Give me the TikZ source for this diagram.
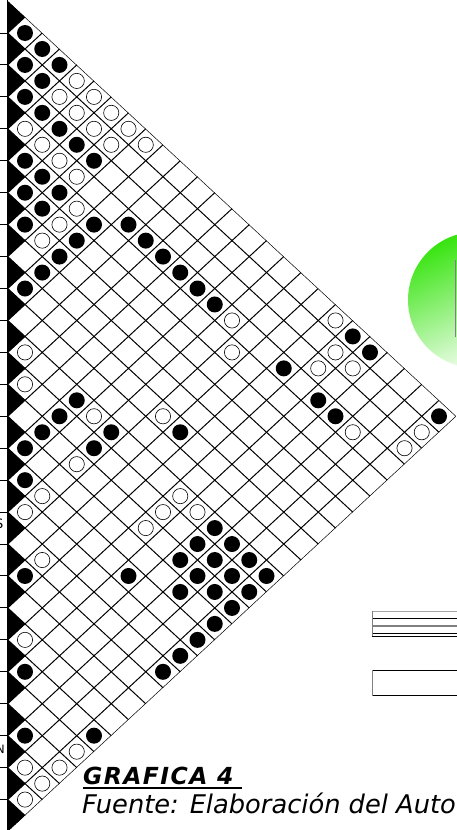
\documentclass[tikz,border=0pt]{standalone}
\usepackage{fontspec}
\setmainfont{DejaVu Sans}
\definecolor{gr}{RGB}{55,228,15}
\begin{document}
\begin{tikzpicture}[x=1pt,y=-1pt,
  gridline/.style={line width=1pt,black},
  blackdot/.style={fill=black},
  whitedot/.style={fill=white,draw=black,line width=0.6pt}]
\useasboundingbox (0,0) rectangle (456,830);
\def\hx{17.25}
\def\hy{15.97}
% grid
\begin{scope}
\clip (7.75,1.06) -- (456.25,416.28) -- (7.75,831.5) -- cycle;
\foreach \i in {0,...,25}{
  \pgfmathsetmacro\c{\i-0.5}
  \draw[gridline] ({25-\hx},{33+\hy*(2*\c-1)}) -- ({25+\hx*(25-\c)},{33+\hy*(\c+25)});
  \draw[gridline] ({25+\hx*(\c+1)},{33+\hy*(\c-1)}) -- ({25-\hx},{33+\hy*(2*\c+1)});
}
\foreach \j in {0,...,25}{
  \pgfmathsetmacro\yy{33+\hy*(2*\j-1)}
  \fill[black] ({25-2*\hx},\yy) -- ({25-\hx},{\yy-\hy}) -- (25,\yy) -- ({25-\hx},{\yy+\hy}) -- cycle;
}
\end{scope}
% left axis
\draw[line width=1pt] (7.75,0) -- (7.75,830);
\foreach \j in {0,...,24}{
  \draw[line width=1pt] (0,{33+2*\hy*\j}) -- (7.75,{33+2*\hy*\j});
}
% circles
\foreach \p/\q in {0/0,0/1,1/1,0/2,1/2,2/2,2/3,2/4,2/5,4/4,2/6,4/5,5/5,4/6,5/6,6/6,4/8,3/9,5/8,3/10,6/8,3/11,7/8,3/12,8/8,3/13,3/14,10/13,0/19,0/20,3/18,3/20,3/21,0/24,11/13,12/13,10/15,8/17,13/13,11/15,14/14,10/21,11/21,10/22,12/21,11/22,17/17,14/20,12/22,13/22,12/23,10/23,11/23,10/24,11/24,12/24,13/24,14/24,15/24,20/20,16/24,22/22,20/24}{
  \fill[blackdot] ({25+\hx*(\q-\p)},{33+\hy*(\p+\q)}) circle (8);
}
\foreach \p/\q in {0/3,1/3,0/4,1/4,0/5,3/3,1/5,0/6,3/4,1/6,0/7,3/5,3/6,4/7,5/7,6/7,3/15,10/10,11/11,4/16,0/18,1/19,2/19,1/20,3/22,1/24,2/24,10/14,8/16,12/15,14/15,10/19,15/15,11/19,10/20,12/19,16/17,19/19,21/24,23/23,22/24,23/24,24/24}{
  \filldraw[whitedot] ({25+\hx*(\q-\p)},{33+\hy*(\p+\q)}) circle (7.6);
}
% partial labels on the left (cut off at the edge, as in the reference)
\node[anchor=base east,inner sep=0pt,font=\fontsize{13}{15}\selectfont] (lblS) at (3.5,528.5) {S};
\node[anchor=base east,inner sep=0pt,font=\fontsize{11.5}{14}\selectfont] (lblN) at (5,753.5) {N};
% green disc
\shade[top color=gr, bottom color=white, shading angle=25] (476,300) circle (68);
\draw[gray,line width=1pt] (455.7,260) -- (455.7,337);
% legend boxes
\draw[gray!70,line width=0.6pt] (372.3,611) -- (460,611);
\draw[black,line width=0.8pt] (372.3,618.3) -- (460,618.3);
\draw[gray,line width=1.6pt] (372.3,625.7) -- (460,625.7);
\draw[black,line width=0.8pt] (372.3,633.3) -- (460,633.3);
\draw[black,line width=0.8pt] (372.3,636.3) -- (460,636.3);
\draw[gray,line width=1pt] (372.3,611) -- (372.3,636.3);
\draw[black,line width=0.8pt] (460,670) -- (372.3,670) -- (372.3,695.7) -- (460,695.7);
\draw[gray,line width=1pt] (372.6,670) -- (372.6,695.7);
% texts
\node[anchor=base west,inner sep=0pt,font=\bfseries\itshape\fontsize{23.5}{27}\selectfont] (title) at (83,784) {\addfontfeatures{LetterSpace=6}GRAFICA 4};
\draw[line width=2pt] (83,788) -- (242,788);
\node[anchor=base west,inner sep=0pt,font=\itshape\fontsize{25.7}{30}\selectfont] (source) at (82,813.5) {Fuente: Elaboración del Auto};
\end{tikzpicture}
\end{document}
